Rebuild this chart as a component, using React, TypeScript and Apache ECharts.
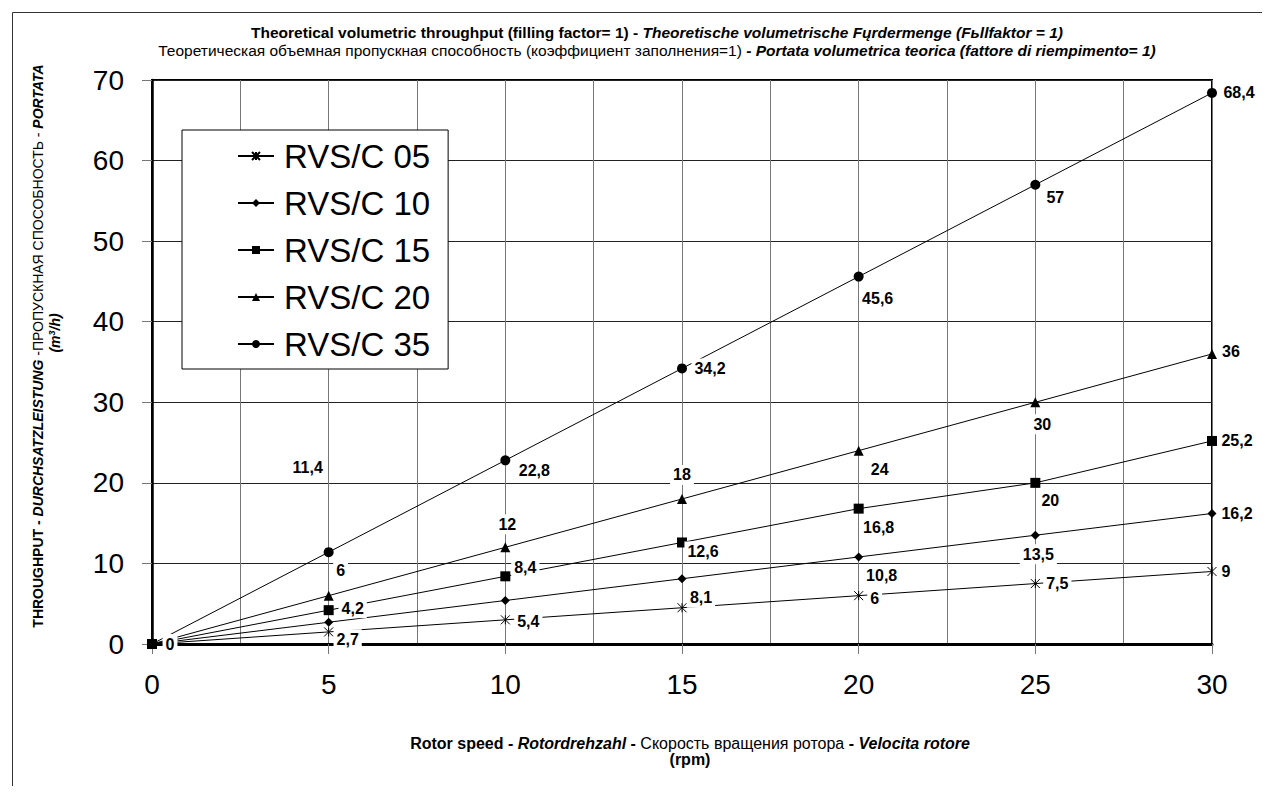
import React, { useEffect, useRef } from "react";
import * as echarts from "echarts";

// ---- data ----
const rpm = [0, 5, 10, 15, 20, 25, 30];
const seriesNames = ["RVS/C 05", "RVS/C 10", "RVS/C 15", "RVS/C 20", "RVS/C 35"];
const rvs05 = [0, 1.5, 3, 4.5, 6, 7.5, 9];
const rvs10 = [0, 2.7, 5.4, 8.1, 10.8, 13.5, 16.2];
const rvs15 = [0, 4.2, 8.4, 12.6, 16.8, 20, 25.2];
const rvs20 = [0, 6, 12, 18, 24, 30, 36];
const rvs35 = [0, 11.4, 22.8, 34.2, 45.6, 57, 68.4];

// label placement (pixel offsets from the point; null = label hidden)
type Off = [number, number] | null;
const off05: Off[] = [null, null, null, null, [16, 3], [22, 0], [14, 0]];
const off10: Off[] = [null, [19, 17], [23, 21], [19, 19], [23, 19], [3, 19], [25, 0]];
const off15: Off[] = [null, [24, -2], [20, -9], [21, 9], [20, 19], [15, 18], [25, 0]];
const off20: Off[] = [null, [12, -25], [2, -23], [0, -24], [21, 19], [7, 22], [19, -2]];
const off35: Off[] = [[18, 0], [-21, -85], [29, 10], [28, 0], [19, 22], [20, 13], [27, 0]];

const FONT = "'Liberation Sans', Arial, Helvetica, sans-serif";

function fmt(v: number) {
  return String(v).replace(".", ",");
}

function makeSeries(
  name: string,
  values: number[],
  symbol: string,
  size: number,
  offsets: Off[],
  extraItem: any = {}
) {
  return {
    type: "line",
    name,
    symbol,
    symbolSize: size,
    showAllSymbol: true,
    lineStyle: { color: "#000", width: 1 },
    itemStyle: { color: "#000", borderWidth: 0, ...extraItem },
    emphasis: { disabled: true },
    label: {
      show: true,
      position: "inside",
      formatter: (p: any) => fmt(p.value[1]),
      fontFamily: FONT,
      fontSize: 16,
      fontWeight: "bold",
      color: "#000",
      backgroundColor: "#fff",
      padding: [2, 3],
    },
    data: rpm.map((x, i) => {
      const o = offsets[i];
      return {
        value: [x, values[i]],
        label: o ? { show: true, offset: o } : { show: false },
      };
    }),
  };
}

function rich(size: number) {
  return {
    n: { fontFamily: FONT, fontSize: size, fill: "#000" },
    b: { fontFamily: FONT, fontSize: size, fontWeight: "bold", fill: "#000" },
    bi: { fontFamily: FONT, fontSize: size, fontWeight: "bold", fontStyle: "italic", fill: "#000" },
  };
}

const centered = {
  align: "center",
  verticalAlign: "middle",
  textAlign: "center",
  textVerticalAlign: "middle",
};

export default function App() {
  const ref = useRef<HTMLDivElement>(null);

  useEffect(() => {
    if (!ref.current) return;
    const chart = echarts.init(ref.current, undefined, { renderer: "svg" });

    const option: any = {
      animation: false,
      backgroundColor: "#fff",
      grid: {
        left: 144,
        top: 72,
        width: 1060,
        height: 564,
        show: true,
        borderColor: "#000",
        borderWidth: 2,
        backgroundColor: "#fff",
      },
      xAxis: {
        type: "value",
        min: 0,
        max: 30,
        interval: 5,
        axisLine: { show: true, onZero: false, lineStyle: { color: "#000", width: 3 } },
        axisTick: { show: true, inside: false, length: 10, lineStyle: { color: "#777", width: 1 } },
        axisLabel: { fontFamily: FONT, fontSize: 28, color: "#000", margin: 26 },
        splitLine: { show: true, lineStyle: { color: "#777", width: 1 } },
        minorTick: { show: false, splitNumber: 2 },
        minorSplitLine: { show: true, lineStyle: { color: "#777", width: 1 } },
      },
      yAxis: {
        type: "value",
        min: 0,
        max: 70,
        interval: 10,
        axisLine: { show: true, onZero: false, lineStyle: { color: "#000", width: 2.5 } },
        axisTick: { show: true, inside: false, length: 10, lineStyle: { color: "#777", width: 1 } },
        axisLabel: { fontFamily: FONT, fontSize: 28, color: "#000", margin: 28 },
        splitLine: { show: true, lineStyle: { color: "#222", width: 1 } },
      },
      legend: {
        show: true,
        orient: "vertical",
        left: 174,
        top: 122,
        data: seriesNames,
        selectedMode: false,
        itemWidth: 36,
        itemHeight: 10,
        itemGap: 11,
        padding: [8, 18, 7, 55],
        borderColor: "#000",
        borderWidth: 1,
        backgroundColor: "#fff",
        textStyle: {
          fontFamily: FONT,
          fontSize: 33,
          lineHeight: 36,
          color: "#000",
          padding: [0, 0, 0, 5],
        },
      },
      graphic: [
        {
          type: "rect",
          left: 2,
          top: 2,
          shape: { x: 0, y: 0, width: 1250, height: 774 },
          style: { fill: "none", stroke: "#333", lineWidth: 1 },
          silent: true,
          z: -1,
        },
        {
          type: "text",
          x: 649,
          y: 24,
          style: {
            text:
              "{b|Theoretical volumetric throughput (filling factor= 1) - }{bi|Theoretische volumetrische Fųrdermenge (Fьllfaktor = 1)}",
            ...centered,
            rich: rich(15.5),
          },
        },
        {
          type: "text",
          x: 649,
          y: 42,
          style: {
            text:
              "{n|Теоретическая объемная пропускная способность (коэффициент заполнения=1)}{b| - }{bi|Portata volumetrica teorica (fattore di riempimento= 1)}",
            ...centered,
            rich: rich(15.5),
          },
        },
        {
          type: "text",
          x: 682,
          y: 735,
          style: {
            text:
              "{b|Rotor speed - }{bi|Rotordrehzahl}{b| - }{n|Скорость вращения ротора}{b| - }{bi|Velocita rotore}",
            ...centered,
            rich: rich(16),
          },
        },
        {
          type: "text",
          x: 682,
          y: 751,
          style: {
            text: "{b|(rpm)}",
            ...centered,
            rich: rich(16),
          },
        },
        {
          type: "text",
          x: 30,
          y: 338,
          rotation: Math.PI / 2,
          style: {
            text:
              "{b|THROUGHPUT - }{bi|DURCHSATZLEISTUNG}{n| -ПРОПУСКНАЯ СПОСОБНОСТЬ - }{bi|PORTATA}",
            ...centered,
            rich: rich(14),
          },
        },
        {
          type: "text",
          x: 47,
          y: 325,
          rotation: Math.PI / 2,
          style: {
            text: "{bi|(m}{sup|3}{bi|/h)}",
            ...centered,
            rich: {
              bi: { fontFamily: FONT, fontSize: 14, fontWeight: "bold", fontStyle: "italic", fill: "#000" },
              sup: { fontFamily: FONT, fontSize: 9, fontWeight: "bold", fontStyle: "italic", fill: "#000", verticalAlign: "top", padding: [0, 0, 6, 0] },
            },
          },
        },
      ],
      series: [
        makeSeries(seriesNames[0], rvs05, "path://M0 0L10 10M10 0L0 10M5 0L5 10", 9, off05, {
          color: "none",
          borderColor: "#000",
          borderWidth: 1,
        }),
        makeSeries(seriesNames[1], rvs10, "diamond", 9, off10),
        makeSeries(seriesNames[2], rvs15, "rect", 10, off15),
        makeSeries(seriesNames[3], rvs20, "triangle", 10, off20),
        makeSeries(seriesNames[4], rvs35, "circle", 10, off35),
      ],
    };

    chart.setOption(option);
    return () => chart.dispose();
  }, []);

  return <div ref={ref} style={{ width: 1254, height: 778 }} />;
}
